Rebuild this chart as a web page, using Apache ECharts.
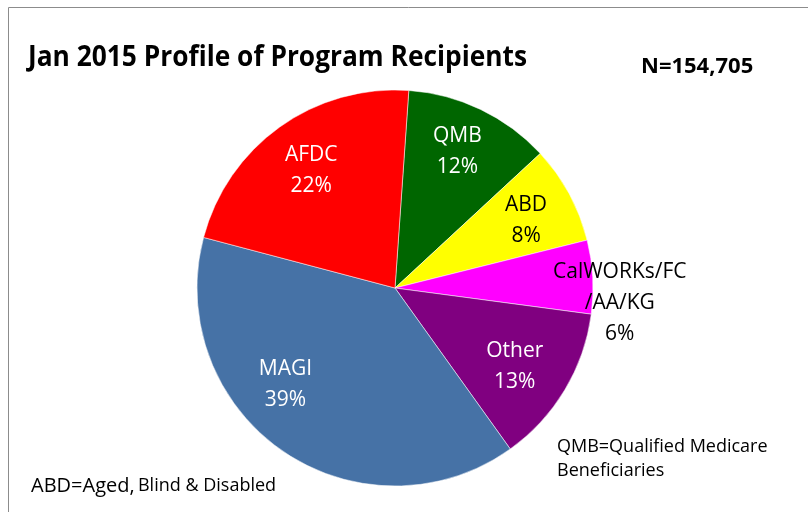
<!DOCTYPE html>
<html>
<head>
<meta charset="utf-8">
<script src="https://cdn.jsdelivr.net/npm/echarts@6/dist/echarts.min.js"></script>
<style>
html,body{margin:0;padding:0;background:#fff;}
#chart{width:808px;height:512px;}
</style>
</head>
<body>
<div id="chart"></div>
<script>
// ---- data ----
var categories = ['QMB', 'ABD', 'CalWORKs/FC', 'Other', 'MAGI', 'AFDC'];
var labelNames = ['QMB', 'ABD', 'CalWORKs/FC\n/AA/KG', 'Other', 'MAGI', 'AFDC'];
var percents = [12, 8, 6, 13, 39, 22];
var sliceColors = ['#006600', '#FFFF00', '#FF00FF', '#800080', '#4672A6', '#FF0000'];
var labelColors = ['#ffffff', '#000000', '#000000', '#ffffff', '#ffffff', '#ffffff'];
var titleText = 'Jan 2015 Profile of Program Recipients';
var totalText = 'N=154,705';

function fitScale(text, font, target) {
  var c = document.createElement('canvas').getContext('2d');
  c.font = font;
  return target / c.measureText(text).width;
}

var chart = echarts.init(document.getElementById('chart'), null, {renderer: 'canvas'});
var center = [395, 288];
var R = 198;
// label nudges (layout, not data)
var labelNudge = [[-2, -2], [0, 3], [76, 23], [-8, 2], [-25, -26], [3, 4]];

var mainData = categories.map(function (c, i) {
  return {name: c, value: percents[i], itemStyle: {color: sliceColors[i]}};
});
var labelData = categories.map(function (c, i) {
  return {name: c, value: percents[i], label: {color: labelColors[i]}};
});

var titleFont = 'bold 28px "Open Sans"';
var titleScale = fitScale(titleText, titleFont, 499);

chart.setOption({
  animation: false,
  graphic: [
    {type: 'rect', shape: {x: 8.5, y: 7.5, width: 1000, height: 1000}, style: {fill: 'none', stroke: '#8c8c8c', lineWidth: 1}, z: 0},
    {type: 'text', x: 28, y: 58, scaleX: titleScale, originX: 0, style: {text: titleText, font: titleFont, fill: '#000', verticalAlign: 'middle'}},
    {type: 'text', x: 641, y: 67, style: {text: totalText, font: 'bold 22px "Open Sans"', fill: '#000', verticalAlign: 'middle'}},
    {type: 'text', x: 557, y: 459, style: {text: 'QMB=Qualified Medicare\nBeneficiaries', font: '18px "Open Sans"', lineHeight: 24, fill: '#000', verticalAlign: 'middle'}},
    {type: 'text', x: 31, y: 486, style: {
      text: '{a|ABD=Aged,} {b|Blind & Disabled}',
      rich: {a: {font: '20px "Open Sans"', fill: '#000'}, b: {font: '18px "Open Sans"', fill: '#000'}},
      fill: '#000', verticalAlign: 'middle'}}
  ],
  series: [
    {
      type: 'pie', silent: true, center: center, radius: [0, R], startAngle: 86, clockwise: true,
      label: {show: false}, labelLine: {show: false},
      itemStyle: {borderColor: 'rgba(255,255,255,0.5)', borderWidth: 1},
      data: mainData, z: 2
    },
    {
      type: 'pie', silent: true, center: center, radius: [94, R], startAngle: 86, clockwise: true,
      itemStyle: {color: 'rgba(0,0,0,0)'},
      labelLine: {show: false},
      label: {
        show: true, position: 'inside', fontFamily: 'Open Sans', fontSize: 21, lineHeight: 31,
        formatter: function (p) { return labelNames[p.dataIndex] + '\n' + p.value + '%'; }
      },
      labelLayout: function (p) {
        var n = labelNudge[p.dataIndex];
        return {dx: n[0], dy: n[1]};
      },
      data: labelData, z: 3
    }
  ]
});
</script>
</body>
</html>
